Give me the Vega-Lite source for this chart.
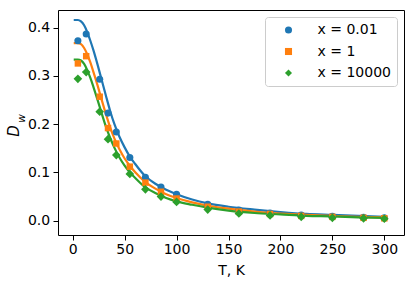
{
  "$schema": "https://vega.github.io/schema/vega-lite/v6.json",
  "width": 346,
  "height": 225,
  "autosize": "none",
  "padding": {"left": 58, "top": 10, "right": 11, "bottom": 50},
  "background": "white",
  "config": {
    "font": "DejaVu Sans",
    "view": {"stroke": "#000000", "strokeWidth": 1},
    "axis": {"grid": false, "domain": false, "tickColor": "#000000", "tickSize": 5, "tickWidth": 1, "labelColor": "#000000", "labelFontSize": 14, "titleColor": "#000000", "titleFontWeight": "normal", "titleFontSize": 14, "labelFont": "DejaVu Sans", "titleFont": "DejaVu Sans"}
  },
  "datasets": {
    "curves": [
      {"T": 1, "D": 0.416, "s": "x = 0.01"}, {"T": 5, "D": 0.416, "s": "x = 0.01"}, {"T": 8, "D": 0.413, "s": "x = 0.01"}, {"T": 11, "D": 0.405, "s": "x = 0.01"}, {"T": 14, "D": 0.391, "s": "x = 0.01"}, {"T": 17, "D": 0.373, "s": "x = 0.01"}, {"T": 20, "D": 0.353, "s": "x = 0.01"}, {"T": 24, "D": 0.323, "s": "x = 0.01"}, {"T": 28, "D": 0.291, "s": "x = 0.01"}, {"T": 32, "D": 0.259, "s": "x = 0.01"}, {"T": 36, "D": 0.228, "s": "x = 0.01"}, {"T": 40, "D": 0.201, "s": "x = 0.01"}, {"T": 45, "D": 0.174, "s": "x = 0.01"}, {"T": 50, "D": 0.152, "s": "x = 0.01"}, {"T": 55, "D": 0.133, "s": "x = 0.01"}, {"T": 60, "D": 0.118, "s": "x = 0.01"}, {"T": 70, "D": 0.092, "s": "x = 0.01"}, {"T": 80, "D": 0.076, "s": "x = 0.01"}, {"T": 90, "D": 0.064, "s": "x = 0.01"}, {"T": 100, "D": 0.055, "s": "x = 0.01"}, {"T": 115, "D": 0.044, "s": "x = 0.01"}, {"T": 130, "D": 0.036, "s": "x = 0.01"}, {"T": 150, "D": 0.029, "s": "x = 0.01"}, {"T": 175, "D": 0.023, "s": "x = 0.01"}, {"T": 200, "D": 0.018, "s": "x = 0.01"}, {"T": 225, "D": 0.014, "s": "x = 0.01"}, {"T": 250, "D": 0.012, "s": "x = 0.01"}, {"T": 275, "D": 0.010, "s": "x = 0.01"}, {"T": 300, "D": 0.008, "s": "x = 0.01"},
      {"T": 1, "D": 0.368, "s": "x = 1"}, {"T": 5, "D": 0.368, "s": "x = 1"}, {"T": 8, "D": 0.366, "s": "x = 1"}, {"T": 11, "D": 0.358, "s": "x = 1"}, {"T": 14, "D": 0.345, "s": "x = 1"}, {"T": 17, "D": 0.328, "s": "x = 1"}, {"T": 20, "D": 0.308, "s": "x = 1"}, {"T": 24, "D": 0.280, "s": "x = 1"}, {"T": 28, "D": 0.250, "s": "x = 1"}, {"T": 32, "D": 0.221, "s": "x = 1"}, {"T": 36, "D": 0.194, "s": "x = 1"}, {"T": 40, "D": 0.171, "s": "x = 1"}, {"T": 45, "D": 0.148, "s": "x = 1"}, {"T": 50, "D": 0.129, "s": "x = 1"}, {"T": 55, "D": 0.114, "s": "x = 1"}, {"T": 60, "D": 0.101, "s": "x = 1"}, {"T": 70, "D": 0.080, "s": "x = 1"}, {"T": 80, "D": 0.066, "s": "x = 1"}, {"T": 90, "D": 0.055, "s": "x = 1"}, {"T": 100, "D": 0.047, "s": "x = 1"}, {"T": 115, "D": 0.038, "s": "x = 1"}, {"T": 130, "D": 0.031, "s": "x = 1"}, {"T": 150, "D": 0.025, "s": "x = 1"}, {"T": 175, "D": 0.019, "s": "x = 1"}, {"T": 200, "D": 0.015, "s": "x = 1"}, {"T": 225, "D": 0.012, "s": "x = 1"}, {"T": 250, "D": 0.010, "s": "x = 1"}, {"T": 275, "D": 0.008, "s": "x = 1"}, {"T": 300, "D": 0.007, "s": "x = 1"},
      {"T": 1, "D": 0.334, "s": "x = 10000"}, {"T": 5, "D": 0.334, "s": "x = 10000"}, {"T": 8, "D": 0.332, "s": "x = 10000"}, {"T": 11, "D": 0.325, "s": "x = 10000"}, {"T": 14, "D": 0.312, "s": "x = 10000"}, {"T": 17, "D": 0.296, "s": "x = 10000"}, {"T": 20, "D": 0.277, "s": "x = 10000"}, {"T": 24, "D": 0.250, "s": "x = 10000"}, {"T": 28, "D": 0.222, "s": "x = 10000"}, {"T": 32, "D": 0.195, "s": "x = 10000"}, {"T": 36, "D": 0.172, "s": "x = 10000"}, {"T": 40, "D": 0.152, "s": "x = 10000"}, {"T": 45, "D": 0.131, "s": "x = 10000"}, {"T": 50, "D": 0.114, "s": "x = 10000"}, {"T": 55, "D": 0.100, "s": "x = 10000"}, {"T": 60, "D": 0.089, "s": "x = 10000"}, {"T": 70, "D": 0.069, "s": "x = 10000"}, {"T": 80, "D": 0.057, "s": "x = 10000"}, {"T": 90, "D": 0.047, "s": "x = 10000"}, {"T": 100, "D": 0.040, "s": "x = 10000"}, {"T": 115, "D": 0.033, "s": "x = 10000"}, {"T": 130, "D": 0.027, "s": "x = 10000"}, {"T": 150, "D": 0.021, "s": "x = 10000"}, {"T": 175, "D": 0.016, "s": "x = 10000"}, {"T": 200, "D": 0.013, "s": "x = 10000"}, {"T": 225, "D": 0.010, "s": "x = 10000"}, {"T": 250, "D": 0.009, "s": "x = 10000"}, {"T": 275, "D": 0.007, "s": "x = 10000"}, {"T": 300, "D": 0.006, "s": "x = 10000"}
    ],
    "points": [
      {"T": 5, "D": 0.373, "s": "x = 0.01"}, {"T": 13, "D": 0.387, "s": "x = 0.01"}, {"T": 26, "D": 0.293, "s": "x = 0.01"}, {"T": 34, "D": 0.223, "s": "x = 0.01"}, {"T": 42, "D": 0.184, "s": "x = 0.01"}, {"T": 55, "D": 0.131, "s": "x = 0.01"}, {"T": 70, "D": 0.090, "s": "x = 0.01"}, {"T": 85, "D": 0.070, "s": "x = 0.01"}, {"T": 100, "D": 0.055, "s": "x = 0.01"}, {"T": 130, "D": 0.034, "s": "x = 0.01"}, {"T": 160, "D": 0.022, "s": "x = 0.01"}, {"T": 190, "D": 0.016, "s": "x = 0.01"}, {"T": 220, "D": 0.012, "s": "x = 0.01"}, {"T": 250, "D": 0.009, "s": "x = 0.01"}, {"T": 280, "D": 0.007, "s": "x = 0.01"}, {"T": 300, "D": 0.006, "s": "x = 0.01"},
      {"T": 5, "D": 0.326, "s": "x = 1"}, {"T": 13, "D": 0.341, "s": "x = 1"}, {"T": 26, "D": 0.257, "s": "x = 1"}, {"T": 34, "D": 0.192, "s": "x = 1"}, {"T": 42, "D": 0.160, "s": "x = 1"}, {"T": 55, "D": 0.112, "s": "x = 1"}, {"T": 70, "D": 0.079, "s": "x = 1"}, {"T": 85, "D": 0.060, "s": "x = 1"}, {"T": 100, "D": 0.046, "s": "x = 1"}, {"T": 130, "D": 0.029, "s": "x = 1"}, {"T": 160, "D": 0.019, "s": "x = 1"}, {"T": 190, "D": 0.014, "s": "x = 1"}, {"T": 220, "D": 0.010, "s": "x = 1"}, {"T": 250, "D": 0.008, "s": "x = 1"}, {"T": 280, "D": 0.006, "s": "x = 1"}, {"T": 300, "D": 0.005, "s": "x = 1"},
      {"T": 5, "D": 0.294, "s": "x = 10000"}, {"T": 13, "D": 0.308, "s": "x = 10000"}, {"T": 26, "D": 0.226, "s": "x = 10000"}, {"T": 34, "D": 0.169, "s": "x = 10000"}, {"T": 42, "D": 0.136, "s": "x = 10000"}, {"T": 55, "D": 0.097, "s": "x = 10000"}, {"T": 70, "D": 0.065, "s": "x = 10000"}, {"T": 85, "D": 0.050, "s": "x = 10000"}, {"T": 100, "D": 0.039, "s": "x = 10000"}, {"T": 130, "D": 0.023, "s": "x = 10000"}, {"T": 160, "D": 0.015, "s": "x = 10000"}, {"T": 190, "D": 0.011, "s": "x = 10000"}, {"T": 220, "D": 0.008, "s": "x = 10000"}, {"T": 250, "D": 0.006, "s": "x = 10000"}, {"T": 280, "D": 0.005, "s": "x = 10000"}, {"T": 300, "D": 0.004, "s": "x = 10000"}
    ]
  },
  "encoding": {
    "x": {"field": "T", "type": "quantitative", "scale": {"domain": [-14.15, 318.95], "nice": false, "zero": false},
          "axis": {"values": [0, 50, 100, 150, 200, 250, 300], "labelPadding": 2.5, "title": "T, K", "titleBaseline": "alphabetic", "titleY": 39, "titleX": 173}},
    "y": {"field": "D", "type": "quantitative", "scale": {"domain": [-0.0296, 0.4367], "nice": false, "zero": false}, "axis": null}
  },
  "layer": [
    {
      "data": {"name": "curves"},
      "transform": [{"filter": "datum.s == 'x = 0.01'"}],
      "mark": {"type": "line", "strokeWidth": 2.2, "interpolate": "monotone", "color": "#1f77b4"},
      "encoding": {
        "y": {"field": "D", "type": "quantitative",
              "axis": {"orient": "left", "values": [0, 0.1, 0.2, 0.3, 0.4], "format": ".1f", "labelPadding": 3.3, "title": "D", "titleFontSize": 15, "titleFontStyle": "italic", "titleAngle": 270, "titleAlign": "center", "titleBaseline": "alphabetic", "titleX": -39.5, "titleY": 120.5}}
      }
    },
    {
      "data": {"name": "curves"},
      "transform": [{"filter": "datum.s == 'x = 1'"}],
      "mark": {"type": "line", "strokeWidth": 2.2, "interpolate": "monotone", "color": "#ff7f0e"}
    },
    {
      "data": {"name": "curves"},
      "transform": [{"filter": "datum.s == 'x = 10000'"}],
      "mark": {"type": "line", "strokeWidth": 2.2, "interpolate": "monotone", "color": "#2ca02c"}
    },
    {
      "data": {"name": "points"},
      "transform": [{"filter": "datum.s == 'x = 0.01'"}],
      "mark": {"type": "point", "filled": true, "opacity": 1, "size": 50},
      "encoding": {
        "y": {"field": "D", "type": "quantitative",
              "axis": {"orient": "left", "labels": false, "ticks": false, "domain": false, "title": "w", "titleFontSize": 10.5, "titleFontStyle": "italic", "titleAngle": 270, "titleAlign": "center", "titleBaseline": "alphabetic", "titleX": -33.5, "titleY": 108}},
        "color": {"field": "s", "type": "nominal",
                  "scale": {"domain": ["x = 0.01", "x = 1", "x = 10000"], "range": ["#1f77b4", "#ff7f0e", "#2ca02c"]},
                  "legend": {"title": null, "orient": "top-right", "offset": 7, "padding": 6, "fillColor": "rgba(255,255,255,0.8)", "strokeColor": "#cccccc", "cornerRadius": 3, "labelFontSize": 14, "labelColor": "#000000", "labelFont": "DejaVu Sans", "symbolSize": 50, "symbolOffset": 10.5, "labelOffset": 22, "rowPadding": 7.5, "symbolStrokeWidth": 0}},
        "shape": {"field": "s", "type": "nominal",
                  "scale": {"domain": ["x = 0.01", "x = 1", "x = 10000"], "range": ["circle", "square", "diamond"]}}
      }
    },
    {
      "data": {"name": "points"},
      "transform": [{"filter": "datum.s == 'x = 1'"}],
      "mark": {"type": "point", "filled": true, "opacity": 1, "size": 42},
      "encoding": {
        "color": {"field": "s", "type": "nominal"},
        "shape": {"field": "s", "type": "nominal"}
      }
    },
    {
      "data": {"name": "points"},
      "transform": [{"filter": "datum.s == 'x = 10000'"}],
      "mark": {"type": "point", "filled": true, "opacity": 1, "size": 75},
      "encoding": {
        "color": {"field": "s", "type": "nominal"},
        "shape": {"field": "s", "type": "nominal"}
      }
    }
  ],
  "resolve": {"axis": {"y": "independent"}}
}
